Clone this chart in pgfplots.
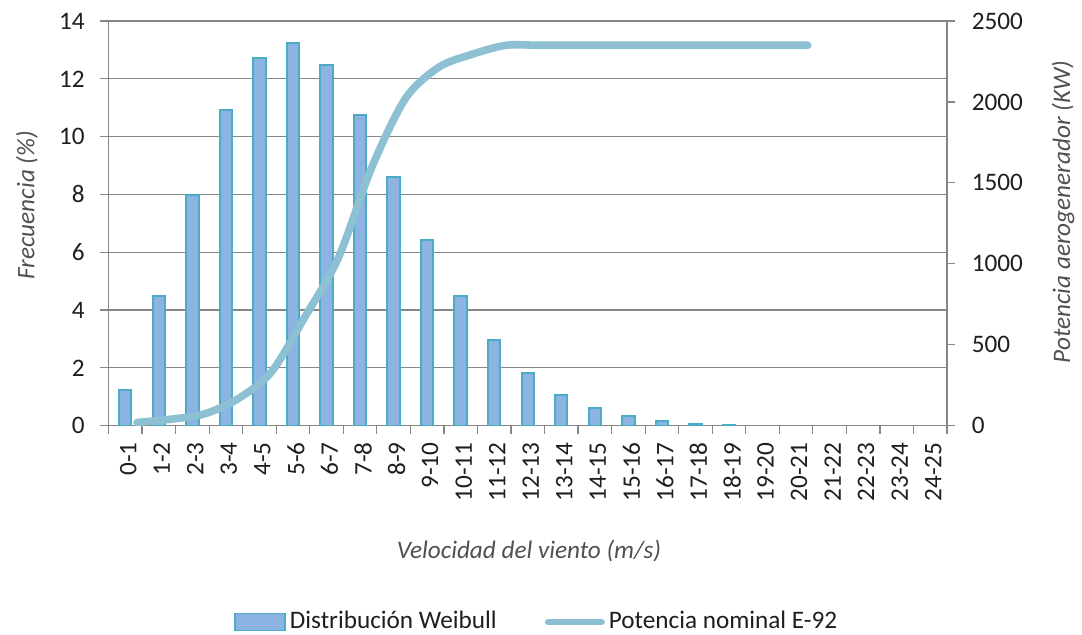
\documentclass[border=0pt]{standalone}
\usepackage{fontspec}
\setmainfont{Carlito}
\usepackage{pgfplots}
\usepackage{pgfplotstable}
\pgfplotsset{compat=1.18}
\definecolor{barfill}{RGB}{141,179,226}
\definecolor{barline}{RGB}{75,172,198}
\definecolor{linecol}{RGB}{140,192,210}
\definecolor{gridgray}{RGB}{134,134,134}
\definecolor{txt}{RGB}{30,30,30}
\definecolor{labgray}{RGB}{80,80,80}

\pgfplotstableread{
x y
0.5 1.23
1.5 4.49
2.5 7.98
3.5 10.92
4.5 12.73
5.5 13.23
6.5 12.47
7.5 10.74
8.5 8.61
9.5 6.43
10.5 4.49
11.5 2.97
12.5 1.81
13.5 1.06
14.5 0.61
15.5 0.35
16.5 0.17
17.5 0.05
18.5 0.02
}\weibull

\pgfplotstableread{
x y
0.85 20
1.85 40
2.85 72
3.85 165
4.85 330
5.85 670
6.85 1035
7.85 1596
8.85 2020
9.85 2215
10.85 2295
11.85 2350
12.85 2350
13.85 2350
14.85 2350
15.85 2350
16.85 2350
17.85 2350
18.85 2350
19.85 2350
20.85 2350
}\potencia

\newcommand{\chartfont}{\fontsize{12.6}{15}\selectfont}

\begin{document}
\chartfont
\begin{tikzpicture}
\useasboundingbox (-54.25pt,-104.15pt) rectangle (486.75pt,212.85pt);
\begin{axis}[
  at={(0pt,0pt)}, anchor=south west,
  scale only axis, width=419.25pt, height=202.35pt,
  xmin=0, xmax=25, ymin=0, ymax=14,
  tick pos=left,
  tick align=outside,
  major tick length=4pt,
  axis line style={gridgray, line width=0.6pt},
  tick style={gridgray, line width=0.6pt},
  ymajorgrids, grid style={gridgray, line width=0.6pt},
  ytick={0,2,...,14},
  xtick={0,...,25},
  x tick label as interval,
  xticklabels={0-1,1-2,2-3,3-4,4-5,5-6,6-7,7-8,8-9,9-10,10-11,11-12,12-13,13-14,14-15,15-16,16-17,17-18,18-19,19-20,20-21,21-22,22-23,23-24,24-25},
  xticklabel style={rotate=90, anchor=east, yshift=-1.5pt},
  yticklabel style={xshift=-3.5pt},
  tick label style={font=\chartfont, text=txt},
  /pgf/number format/assume math mode=true,
  /pgf/number format/1000 sep={},
  every axis y label/.style={at={(rel axis cs:0,0.545)}, xshift=-40.75pt, rotate=90, anchor=center},
  every axis x label/.style={at={(rel axis cs:0.5015,0)}, yshift=-62.65pt, anchor=center},
  label style={font=\chartfont\itshape, text=labgray},
  ylabel={Frecuencia (\%)},
  xlabel={Velocidad del viento (m/s)},
]
\addplot[ybar, bar width=6.2pt, fill=barfill, draw=barline, line width=1pt] table[x=x, y=y] {\weibull};
\end{axis}
\begin{axis}[
  at={(0pt,0pt)}, anchor=south west,
  scale only axis, width=419.25pt, height=202.35pt,
  xmin=0, xmax=25, ymin=0, ymax=2500,
  axis x line=none,
  axis y line*=right,
  tick align=outside,
  major tick length=4pt,
  axis line style={gridgray, line width=0.6pt},
  tick style={gridgray, line width=0.6pt},
  ytick={0,500,...,2500},
  yticklabel style={xshift=4pt},
  tick label style={font=\chartfont, text=txt},
  /pgf/number format/assume math mode=true,
  /pgf/number format/1000 sep={},
  every axis y label/.style={at={(rel axis cs:1,0.528)}, xshift=58pt, rotate=90, anchor=center},
  label style={font=\chartfont\itshape, text=labgray},
  ylabel={Potencia aerogenerador (KW)},
  legend columns=2,
  legend style={draw=none, fill=none, at={(0.512,-0.485)}, anchor=center, font=\chartfont, text=txt,
    /tikz/every even column/.append style={column sep=22pt}},
]
\addlegendimage{legend image code/.code={\draw[fill=barfill, draw=barline, line width=0.8pt] (0pt,-4.25pt) rectangle (25pt,4.25pt);}}
\addlegendentry{Distribución Weibull}
\addplot[color=linecol, line width=3.8pt, smooth, line cap=round,
  legend image code/.code={\draw[color=linecol, line width=3pt] (0pt,0pt) -- (27pt,0pt);}] table[x=x, y=y] {\potencia};
\addlegendentry{Potencia nominal E-92}
\end{axis}
\end{tikzpicture}
\end{document}
